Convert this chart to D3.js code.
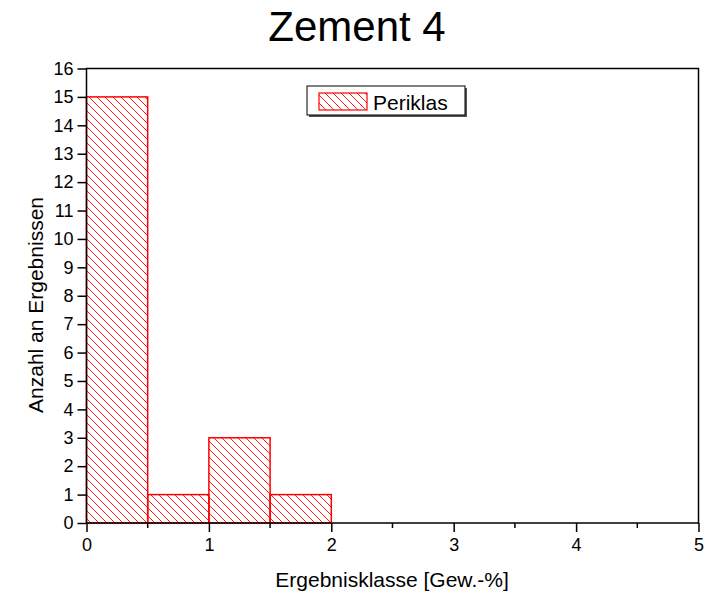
<!DOCTYPE html>
<html><head><meta charset="utf-8">
<script src="https://cdn.jsdelivr.net/npm/d3@7"></script>
<style>body{margin:0;background:#fff}svg{display:block}text{font-family:"Liberation Sans",Arial,sans-serif}</style>
</head><body>
<script>
const binStarts = [0, 0.5, 1, 1.5];
const binWidth = 0.5;
const counts = [15, 1, 3, 1];
const seriesName = "Periklas";
const xTicks = [0, 1, 2, 3, 4, 5];
const xMinor = [0.5, 1.5, 2.5, 3.5, 4.5];
const yTicks = d3.range(0, 17);

const W = 715, H = 597;
const svg = d3.select("body").append("svg").attr("width", W).attr("height", H);
const L = 86.5, R = 698.5, T = 68.5, B = 523;
const x = d3.scaleLinear().domain([0, 5]).range([L, R]);
const y = d3.scaleLinear().domain([0, 16]).range([B, T]);

const defs = svg.append("defs");
const pat = defs.append("pattern").attr("id", "hatch").attr("patternUnits", "userSpaceOnUse")
  .attr("width", 8).attr("height", 8);
pat.append("path").attr("d", "M-2,-2 L10,10 M-2,6 L2,10 M6,-2 L10,2")
  .attr("stroke", "#ff0000").attr("stroke-width", 0.9);

// bars
svg.append("g").selectAll("rect").data(binStarts).join("rect")
  .attr("x", (d) => x(d)).attr("width", (d) => x(d + binWidth) - x(d))
  .attr("y", (d, i) => y(counts[i])).attr("height", (d, i) => y(0) - y(counts[i]))
  .attr("fill", "url(#hatch)").attr("stroke", "#ff0000").attr("stroke-width", 1.5);

// frame
svg.append("rect").attr("x", L).attr("y", T).attr("width", R - L).attr("height", B - T)
  .attr("fill", "none").attr("stroke", "#000").attr("stroke-width", 1.5);

// x axis
const xa = svg.append("g").attr("transform", `translate(0,${B})`)
  .call(d3.axisBottom(x).tickValues(xTicks).tickFormat(d3.format("d")).tickSize(9).tickPadding(6));
xa.append("g").selectAll("line").data(xMinor).join("line")
  .attr("x1", (d) => x(d)).attr("x2", (d) => x(d)).attr("y1", 0).attr("y2", 5).attr("stroke", "#000").attr("stroke-width", 1.5);
// y axis
const ya = svg.append("g").attr("transform", `translate(${L},0)`)
  .call(d3.axisLeft(y).tickValues(yTicks).tickFormat(d3.format("d")).tickSize(9).tickPadding(4));
[xa, ya].forEach((a) => {
  a.select(".domain").remove();
  a.attr("font-size", 18).attr("font-family", '"Liberation Sans", Arial, sans-serif');
  a.selectAll(".tick line").attr("stroke-width", 1.5);
  a.selectAll("text").attr("font-size", 18).attr("fill", "#000");
});

// title
svg.append("text").attr("x", 357).attr("y", 41).attr("text-anchor", "middle")
  .attr("font-size", 42).text("Zement 4");
svg.append("text").attr("x", 392).attr("y", 587).attr("text-anchor", "middle")
  .attr("font-size", 21).text("Ergebnisklasse [Gew.-%]");
svg.append("text").attr("transform", "translate(43,305) rotate(-90)").attr("text-anchor", "middle")
  .attr("font-size", 21).text("Anzahl an Ergebnissen");

// legend
const lg = svg.append("g");
lg.append("rect").attr("x", 309).attr("y", 88).attr("width", 158).attr("height", 29).attr("fill", "#555");
lg.append("rect").attr("x", 307).attr("y", 86).attr("width", 158).attr("height", 29)
  .attr("fill", "#fff").attr("stroke", "#000").attr("stroke-width", 1);
lg.append("rect").attr("x", 319).attr("y", 93).attr("width", 48).attr("height", 17)
  .attr("fill", "url(#hatch)").attr("stroke", "#ff0000").attr("stroke-width", 1.2);
lg.append("text").attr("x", 373).attr("y", 110).attr("font-size", 21).text(seriesName);
</script>
</body></html>
